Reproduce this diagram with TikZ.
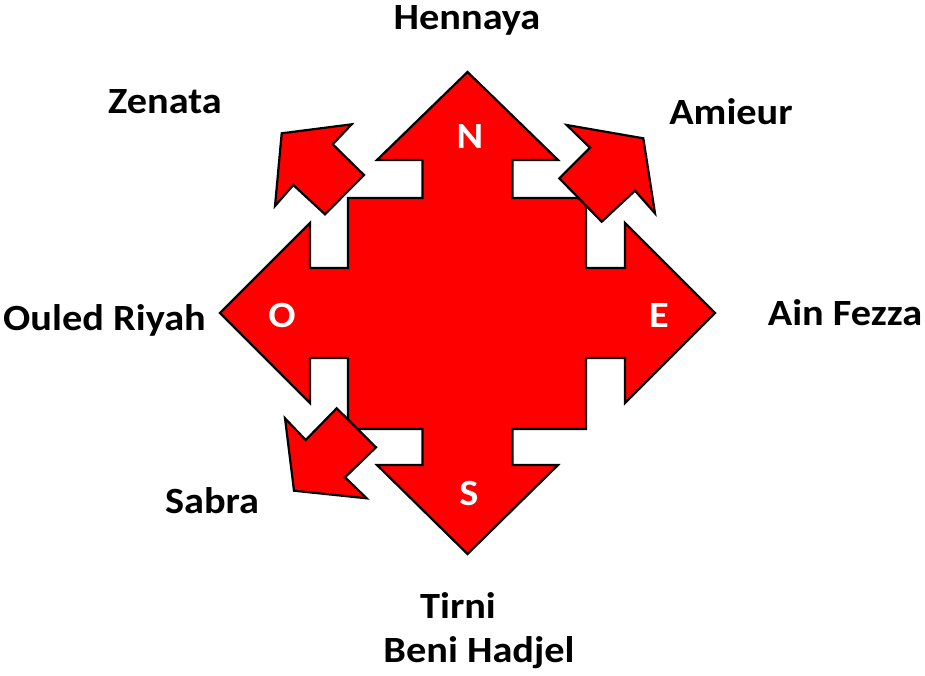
\documentclass[tikz,border=0pt]{standalone}
\usepackage{fontspec}
\setmainfont{Carlito}[FakeStretch=1.09]
\begin{document}
\begin{tikzpicture}[x=1pt,y=-1pt,
  block/.style={fill=red,draw=black,line width=2.2pt,line join=miter},
  lbl/.style={font=\fontsize{37}{42}\selectfont\bfseries,anchor=base,inner sep=0pt},
  dirl/.style={font=\fontsize{37}{42}\selectfont\bfseries,text=white,inner sep=0pt}]
\useasboundingbox (0,0) rectangle (925,675);
% main four-way arrow
\draw[block] (467.5,72) -- (558,160) -- (512.5,160) -- (512.5,198) -- (586,198)
  -- (586,268) -- (625,268) -- (625,223) -- (715,313) -- (625,403) -- (625,358)
  -- (586,358) -- (586,429) -- (512.5,429) -- (512.5,465) -- (558,465)
  -- (467.5,554) -- (377,465) -- (422.5,465) -- (422.5,429) -- (348,429)
  -- (348,358) -- (310,358) -- (310,403) -- (220,313) -- (310,223) -- (310,268)
  -- (348,268) -- (348,198) -- (422.5,198) -- (422.5,160) -- (377,160) -- cycle;
% Zenata arrow
\draw[block] (281.7,133.3) -- (351.7,124.3) -- (332.7,144.3) -- (364,175)
  -- (325,214.3) -- (293.3,185) -- (275,206) -- cycle;
% Amieur arrow
\draw[block] (559.3,178.3) -- (590,147.7) -- (566.7,125) -- (643.3,138.3)
  -- (655,213.3) -- (635,190.7) -- (601.7,221.7) -- cycle;
% Sabra arrow
\draw[block] (336.7,408.3) -- (376,447.3) -- (345,477.3) -- (366.7,498.3)
  -- (294,490.7) -- (285,418.3) -- (305.7,440) -- cycle;
% direction letters
\node[dirl] (n) at (470,136) {N};
\node[dirl] (o) at (282,315) {O};
\node[dirl] (e) at (659,315) {E};
\node[dirl] (s) at (469,493) {S};
% labels
\node[lbl] (hennaya) at (467,29) {Hennaya};
\node[lbl] (zenata) at (165,113) {Zenata};
\node[lbl] (amieur) at (731,124) {Amieur};
\node[lbl] (ouled) at (104.5,330) {Ouled Riyah};
\node[lbl] (ain) at (845,325) {Ain Fezza};
\node[lbl] (sabra) at (212,513) {Sabra};
\node[lbl] (tirni) at (458,618) {Tirni};
\node[lbl] (beni) at (479,662) {Beni Hadjel};
\end{tikzpicture}
\end{document}
